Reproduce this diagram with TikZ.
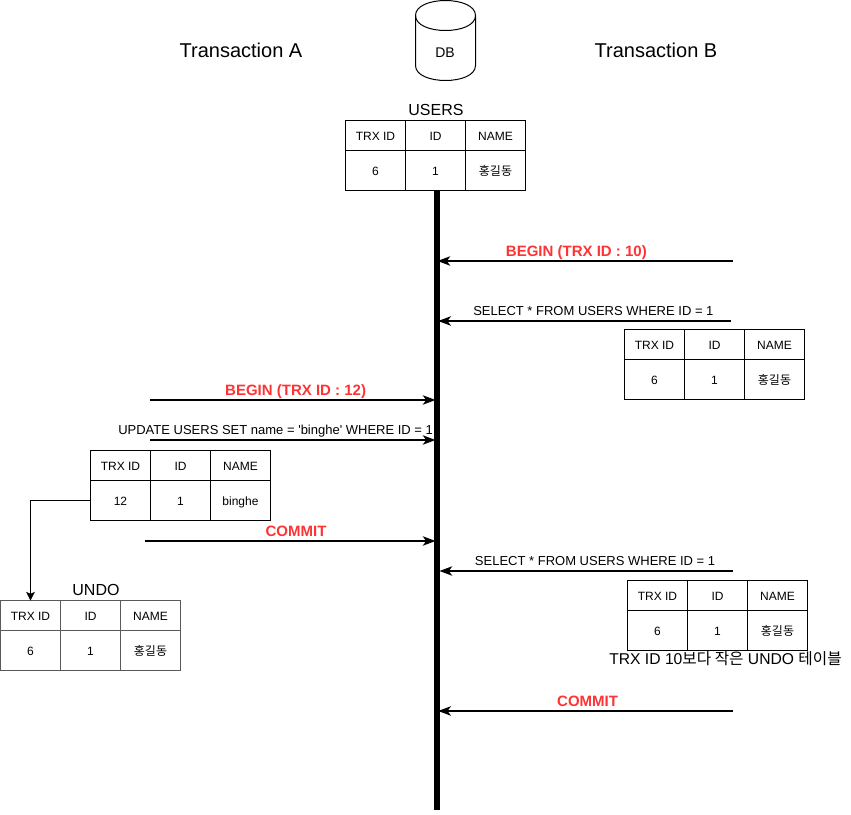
\documentclass[tikz,border=0pt]{standalone}
\usepackage{fontspec}
\setmainfont{Liberation Sans}
\newfontfamily\cjk{Noto Sans CJK KR}
\usetikzlibrary{arrows.meta}
\definecolor{beginred}{HTML}{FF3333}

\tikzset{
    cell/.style={rectangle, draw=#1, line width=0.75pt, inner sep=0pt, outer sep=0pt, anchor=north west, font=\fontsize{9}{11}\selectfont, text=black, text height=8pt, text depth=0pt, minimum width=45pt},
    cell/.default=black,
    headcell/.style={cell=#1, minimum height=22.5pt},
    headcell/.default=black,
    rowcell/.style={cell=#1, minimum height=30pt},
    rowcell/.default=black,
    title/.style={font=\fontsize{15}{18}\selectfont},
    tablename/.style={font=\fontsize{12}{14}\selectfont},
    msg/.style={-{Stealth[length=9.5pt, width=7pt, inset=2.5pt]}, line width=1.5pt, draw=black},
    link/.style={-{Stealth[length=6.5pt, width=6.5pt, inset=1.5pt]}, line width=0.75pt},
    msglabel/.style={font=\fontsize{9.75}{11}\selectfont, inner sep=0pt, text height=7.5pt, text depth=2pt, above=1.25pt},
    redlabel/.style={font=\fontsize{11.25}{13}\selectfont\bfseries, text=beginred, inner sep=0pt, text height=8.5pt, text depth=2pt, above=0.75pt}
}

% one table: name prefix, position, line colour, trx id, name
\newcommand{\trxtable}[6]{
    \node[headcell=#4] (#1_h1) at (#2,#3) {TRX ID};
    \node[headcell=#4] (#1_h2) at (#2+60,#3) {ID};
    \node[headcell=#4] (#1_h3) at (#2+120,#3) {NAME};
    \node[rowcell=#4] (#1_r1) at (#2,#3+30) {#5};
    \node[rowcell=#4] (#1_r2) at (#2+60,#3+30) {1};
    \node[rowcell=#4] (#1_r3) at (#2+120,#3+30) {#6};
}

\begin{document}
\begin{tikzpicture}[x=0.75pt, y=-0.75pt]
\useasboundingbox (0,0) rectangle (851,815);

% Header
\node[title] (title_a) at (241,50) {Transaction A};
\node[title] (title_b) at (656,50) {Transaction B};
\draw[line width=0.75pt] (415.5,15.5) .. controls (415.5,-4.5) and (475.5,-4.5) .. (475.5,15.5) -- (475.5,65.5)
    .. controls (475.5,85.5) and (415.5,85.5) .. (415.5,65.5) -- cycle;
\draw[line width=0.75pt] (415.5,15.5) .. controls (415.5,35.5) and (475.5,35.5) .. (475.5,15.5);
\node[font=\fontsize{10.5}{13}\selectfont] (db) at (445,53) {DB};

% Tables
\node[tablename] (users_name) at (436,110) {USERS};
\trxtable{users}{345.5}{120.5}{black}{6}{\cjk 홍길동}
\trxtable{read_one}{624.5}{329.5}{black}{6}{\cjk 홍길동}
\trxtable{updated}{90.5}{450.5}{black}{12}{binghe}
\node[tablename] (undo_name) at (96,590) {UNDO};
\trxtable{undo}{0.5}{600.5}{black!65}{6}{\cjk 홍길동}
\trxtable{read_two}{627.5}{580.5}{black}{6}{\cjk 홍길동}
\node[font=\fontsize{11.75}{14}\selectfont] (read_two_note) at (725.5,659) {TRX ID 10{\cjk 보다 작은} UNDO {\cjk 테이블}};

% Timeline
\node[rectangle, fill=black, inner sep=0pt, outer sep=0pt, minimum width=4.5pt, minimum height=464.25pt] (life) at (436.5,500.5) {};

% Transaction B
\coordinate (b_begin) at (733,261);
\coordinate (b_select1) at (731,321);
\coordinate (b_select2) at (733,571);
\coordinate (b_commit) at (733,711);
\draw[msg] (b_begin) -- ([xshift=-1.5pt]b_begin -| life.east) node[pos=0.53, redlabel] {BEGIN (TRX ID : 10)};
\draw[msg] (b_select1) -- ([xshift=-1pt]b_select1 -| life.east) node[pos=0.47, msglabel] {SELECT * FROM USERS WHERE ID = 1};
\draw[msg] (b_select2) -- (b_select2 -| life.east) node[pos=0.47, msglabel] {SELECT * FROM USERS WHERE ID = 1};
\draw[msg] (b_commit) -- ([xshift=-1pt]b_commit -| life.east) node[pos=0.493, redlabel] {COMMIT};

% Transaction A
\coordinate (a_begin) at (150,400);
\coordinate (a_update) at (150,440);
\coordinate (a_commit) at (145,541);
\draw[msg] (a_begin) -- ([xshift=1.5pt]a_begin -| life.west) node[pos=0.51, redlabel] {BEGIN (TRX ID : 12)};
\draw[msg] (a_update) -- ([xshift=1.5pt]a_update -| life.west) node[pos=0.44, msglabel] {UPDATE USERS SET name = \textquotesingle binghe\textquotesingle{} WHERE ID = 1};
\draw[msg] (a_commit) -- ([xshift=1.5pt]a_commit -| life.west) node[pos=0.52, redlabel] {COMMIT};

% Undo copy
\draw[link] (updated_r1.west) -| (undo_h1.north);

\end{tikzpicture}
\end{document}
